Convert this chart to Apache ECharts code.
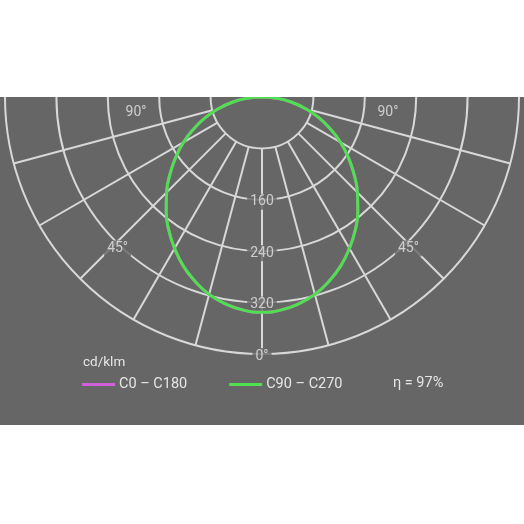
<!DOCTYPE html>
<html>
<head>
<meta charset="utf-8">
<script src="https://cdn.jsdelivr.net/npm/echarts@6/dist/echarts.min.js"></script>
<style>
  html, body { margin: 0; padding: 0; background: #ffffff; width: 524px; height: 524px; overflow: hidden; }
  #chart { position: absolute; left: 0; top: 97px; width: 524px; height: 328px; background: #666666; }
</style>
</head>
<body>
<div id="chart"></div>
<script>
// Polar angles (degrees from nadir) and luminous intensity (cd/klm)
const angles = [0, 5, 10, 15, 20, 25, 30, 35, 40, 45, 50, 55, 60, 65, 70, 75, 80, 85, 90];
const c0c180 = [335, 333, 327, 318, 305, 290, 272, 253, 232, 210, 187, 164, 141, 117, 94, 70, 47, 23, 0];
const c90c270 = [335, 333, 327, 318, 305, 290, 272, 253, 232, 210, 187, 164, 141, 117, 94, 70, 47, 23, 0];
const ringValues = [80, 160, 240, 320, 400];
const spokeAngles = [0, 15, 30, 45, 60, 75, 285, 300, 315, 330, 345];
const ringLabels = [[160, 0, '160'], [240, 0, '240'], [320, 0, '320'], [400, 0, '0°']];
const angleLabels = [[320, 45, '45°'], [320, 315, '45°'], [196, 90, '90°'], [196, 270, '90°']];
const legendNames = ['C0 – C180', 'C90 – C270'];
const unitText = 'cd/klm';
const efficiencyText = 'η = 97%';

const gridColor = '#d8d8d8';
const textColor = '#e6e6e6';
const bg = '#666666';
const font = 'Roboto';

function curve(values) {
  const pts = [];
  // left half: from 90° down to 0°
  for (let i = angles.length - 1; i >= 0; i--) pts.push([values[i], angles[i]]);
  // right half: from 0° up to 90° (mirrored)
  for (let i = 1; i < angles.length; i++) pts.push([values[i], 360 - angles[i]]);
  return pts;
}

const spokeSeries = spokeAngles.map(a => ({
  type: 'line', coordinateSystem: 'polar', silent: true, z: 1,
  symbol: 'none', animation: false,
  lineStyle: { color: gridColor, width: 2 },
  data: [[ringValues[0], a], [ringValues[ringValues.length - 1], a]]
}));

const chart = echarts.init(document.getElementById('chart'), null, { renderer: 'canvas' });
chart.setOption({
  backgroundColor: 'transparent',
  animation: false,
  textStyle: { fontFamily: font },
  polar: { center: [262, 0], radius: [0, 257] },
  angleAxis: {
    type: 'value', min: 0, max: 360, startAngle: -90, clockwise: true,
    axisLine: { show: false }, axisTick: { show: false }, axisLabel: { show: false }, splitLine: { show: false }
  },
  radiusAxis: {
    type: 'value', min: 0, max: 400, interval: 80,
    axisLine: { show: false }, axisTick: { show: false }, axisLabel: { show: false },
    splitLine: { show: true, lineStyle: { color: gridColor, width: 2 } }
  },
  legend: {
    data: legendNames,
    left: 82, top: 280, padding: 0,
    icon: 'rect', itemWidth: 33, itemHeight: 3, itemGap: 42,
    textStyle: { color: textColor, fontSize: 14.5, fontFamily: font, padding: [0, 0, 0, -1] },
    selectedMode: false
  },
  graphic: [
    { type: 'text', left: 83, top: 259, style: { text: unitText, fill: textColor, font: '13.5px Roboto' } },
    { type: 'text', left: 393, top: 279, style: { text: efficiencyText, fill: textColor, font: '14.5px Roboto' } }
  ],
  series: [
    ...spokeSeries,
    {
      type: 'scatter', coordinateSystem: 'polar', z: 3, silent: true, symbolSize: 0,
      data: ringLabels,
      label: { show: true, position: 'inside', offset: [0, 2], formatter: p => p.data[2], color: textColor, fontSize: 14, fontFamily: font,
               backgroundColor: bg, padding: [1, 3, 1, 3] }
    },
    {
      type: 'scatter', coordinateSystem: 'polar', z: 3, silent: true, symbolSize: 0,
      data: angleLabels.slice(0, 2),
      label: { show: true, position: 'inside', offset: [1, 6], formatter: p => p.data[2], color: textColor, fontSize: 14, fontFamily: font,
               backgroundColor: bg, padding: [1, 3, 1, 3] }
    },
    {
      type: 'scatter', coordinateSystem: 'polar', z: 3, silent: true, symbolSize: 0,
      data: angleLabels.slice(2),
      label: { show: true, position: 'inside', offset: [0, 15], formatter: p => p.data[2], color: textColor, fontSize: 14, fontFamily: font }
    },
    {
      name: legendNames[0], type: 'line', coordinateSystem: 'polar', z: 4,
      smooth: true, symbol: 'none', color: '#d35fd8',
      lineStyle: { color: '#d35fd8', width: 3 },
      data: curve(c0c180)
    },
    {
      name: legendNames[1], type: 'line', coordinateSystem: 'polar', z: 5,
      smooth: true, symbol: 'none', color: '#4fe04f',
      lineStyle: { color: '#4fe04f', width: 3 },
      data: curve(c90c270)
    }
  ]
});
</script>
</body>
</html>
